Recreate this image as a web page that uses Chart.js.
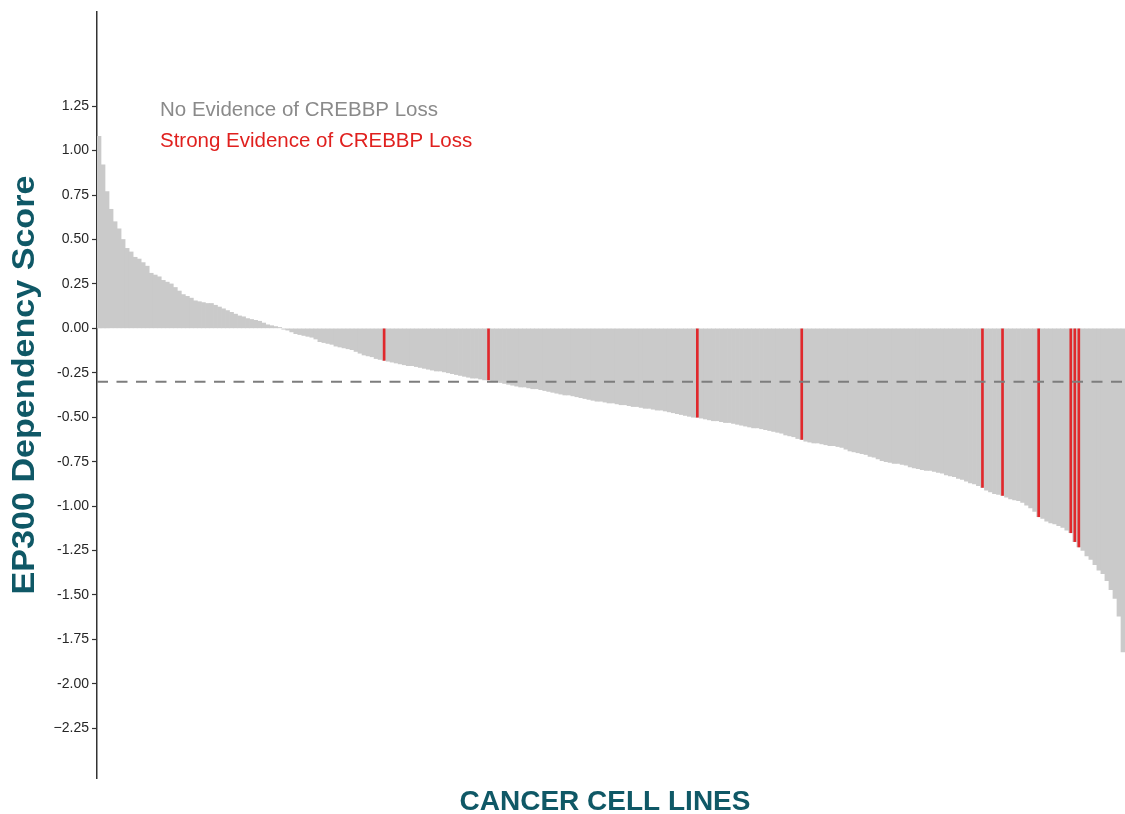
<!DOCTYPE html>
<html>
<head>
<meta charset="utf-8">
<script src="https://cdn.jsdelivr.net/npm/chart.js@4/dist/chart.umd.min.js"></script>
<style>
  html, body { margin: 0; padding: 0; background: #fff; }
  #wrap { width: 1125px; height: 814px; }
</style>
</head>
<body>
<div id="wrap"><canvas id="chart"></canvas></div>
<script>
'use strict'

// EP300 dependency score per cancer cell line, sorted high to low
const cellLineScores = [
  1.08, 0.92, 0.77, 0.67, 0.60, 0.56, 0.50, 0.45, 0.43, 0.40,
  0.39, 0.37, 0.35, 0.31, 0.30, 0.29, 0.27, 0.26, 0.25, 0.23,
  0.21, 0.19, 0.18, 0.17, 0.155, 0.15, 0.145, 0.14, 0.14, 0.13,
  0.12, 0.11, 0.10, 0.09, 0.08, 0.07, 0.065, 0.055, 0.05, 0.045,
  0.04, 0.03, 0.02, 0.015, 0.01, 0.005, -0.005, -0.01, -0.02, -0.03,
  -0.035, -0.04, -0.045, -0.05, -0.06, -0.075, -0.08, -0.085, -0.09, -0.10,
  -0.105, -0.11, -0.115, -0.12, -0.13, -0.14, -0.15, -0.155, -0.16, -0.17,
  -0.175, -0.18, -0.185, -0.19, -0.195, -0.20, -0.205, -0.21, -0.21, -0.215,
  -0.22, -0.225, -0.23, -0.235, -0.24, -0.24, -0.245, -0.25, -0.255, -0.26,
  -0.265, -0.27, -0.275, -0.28, -0.28, -0.285, -0.29, -0.29, -0.295, -0.30,
  -0.305, -0.31, -0.315, -0.32, -0.325, -0.33, -0.33, -0.335, -0.34, -0.34,
  -0.345, -0.35, -0.355, -0.36, -0.365, -0.37, -0.375, -0.375, -0.38, -0.385,
  -0.39, -0.395, -0.40, -0.405, -0.41, -0.41, -0.415, -0.42, -0.42, -0.425,
  -0.43, -0.43, -0.435, -0.44, -0.44, -0.445, -0.45, -0.45, -0.455, -0.46,
  -0.46, -0.465, -0.47, -0.475, -0.48, -0.485, -0.49, -0.495, -0.50, -0.50,
  -0.505, -0.51, -0.515, -0.52, -0.52, -0.525, -0.53, -0.53, -0.535, -0.54,
  -0.545, -0.55, -0.555, -0.56, -0.56, -0.565, -0.57, -0.575, -0.58, -0.585,
  -0.59, -0.60, -0.605, -0.61, -0.62, -0.625, -0.635, -0.64, -0.645, -0.645,
  -0.65, -0.655, -0.66, -0.66, -0.665, -0.67, -0.68, -0.69, -0.695, -0.70,
  -0.705, -0.71, -0.72, -0.725, -0.735, -0.745, -0.75, -0.755, -0.76, -0.76,
  -0.765, -0.77, -0.78, -0.785, -0.79, -0.795, -0.80, -0.80, -0.805, -0.81,
  -0.815, -0.825, -0.83, -0.835, -0.845, -0.85, -0.86, -0.87, -0.875, -0.885,
  -0.895, -0.91, -0.92, -0.93, -0.935, -0.94, -0.95, -0.96, -0.965, -0.97,
  -0.98, -0.995, -1.01, -1.03, -1.06, -1.07, -1.085, -1.095, -1.10, -1.11,
  -1.12, -1.135, -1.15, -1.20, -1.23, -1.25, -1.28, -1.30, -1.33, -1.36,
  -1.38, -1.42, -1.47, -1.52, -1.62, -1.82
]

// positions (in the sorted list) of lines with strong evidence of CREBBP loss
const crebbpLossIdx = [71, 97, 149, 175, 220, 225, 234, 242, 243, 244]

const dependencyCutoff = -0.3

const yTickValues = [-2.25, -2, -1.75, -1.5, -1.25, -1, -0.75, -0.5, -0.25, 0, 0.25, 0.5, 0.75, 1, 1.25]
const yTickLabels = ['\u22122.25', '-2.00', '-1.75', '-1.50', '-1.25', '-1.00', '-0.75', '-0.50', '-0.25',
  '0.00', '0.25', '0.50', '0.75', '1.00', '1.25']

const legendLabels = ['No Evidence of CREBBP Loss', 'Strong Evidence of CREBBP Loss']
const legendColors = ['#8a8a8a', '#e0201e']

const xTitle = 'CANCER CELL LINES'
const yTitle = 'EP300 Dependency Score'

const teal = '#0f5866'
const fontFamily = '"Liberation Sans", Arial, sans-serif'

const labels = cellLineScores.map((v, i) => i + 1)
const lossScores = cellLineScores.map((v, i) => crebbpLossIdx.includes(i) ? v : null)

const cutoffLine = {
  id: 'cutoffLine',
  afterDatasetsDraw(chart) {
    const { ctx, chartArea, scales } = chart
    const y = scales.y.getPixelForValue(dependencyCutoff)
    ctx.save()
    ctx.strokeStyle = '#7d7d7d'
    ctx.lineWidth = 2
    ctx.setLineDash([11, 8.5])
    ctx.beginPath()
    ctx.moveTo(chartArea.left, y)
    ctx.lineTo(chartArea.right, y)
    ctx.stroke()
    ctx.restore()
  }
}

// legend is just two coloured lines of text in the upper left of the panel
const textLegend = {
  id: 'textLegend',
  afterDraw(chart) {
    const { ctx, chartArea } = chart
    ctx.save()
    ctx.font = '20.5px ' + fontFamily
    ctx.textBaseline = 'middle'
    ctx.textAlign = 'left'
    legendLabels.forEach((text, k) => {
      ctx.fillStyle = legendColors[k]
      ctx.fillText(text, chartArea.left + 63, chartArea.top + 98 + k * 31)
    })
    ctx.restore()
  }
}

// axis titles drawn by hand so they sit where the original has them
const axisTitles = {
  id: 'axisTitles',
  afterDraw(chart) {
    const { ctx, chartArea } = chart
    ctx.save()
    ctx.fillStyle = teal
    ctx.textAlign = 'center'
    ctx.textBaseline = 'alphabetic'

    ctx.font = 'bold 28px ' + fontFamily
    ctx.fillText(xTitle, (chartArea.left + chartArea.right) / 2 - 6, chart.height - 4)

    ctx.translate(34, (chartArea.top + chartArea.bottom) / 2 - 10)
    ctx.rotate(-Math.PI / 2)
    ctx.scale(1.1, 1)
    ctx.font = 'bold 31px ' + fontFamily
    ctx.fillText(yTitle, 0, 0)
    ctx.restore()
  }
}

new Chart(document.getElementById('chart'), {
  type: 'bar',
  data: {
    labels: labels,
    datasets: [{
      label: legendLabels[1],
      data: lossScores,
      backgroundColor: '#e0282c',
      barThickness: 2,
      grouped: false,
      order: 0
    }, {
      label: legendLabels[0],
      data: cellLineScores,
      backgroundColor: '#cacaca',
      borderWidth: 0,
      barPercentage: 1,
      categoryPercentage: 1,
      grouped: false,
      order: 1
    }]
  },
  options: {
    responsive: true,
    maintainAspectRatio: false,
    animation: false,
    layout: { padding: { top: 12, right: 0, bottom: 0, left: 0 } },
    plugins: {
      legend: { display: false },
      tooltip: { enabled: false }
    },
    scales: {
      x: {
        grid: { display: false },
        border: { display: false },
        ticks: { display: false },
        afterFit(scale) { scale.height = 36 }
      },
      y: {
        min: -2.53,
        max: 1.78,
        afterBuildTicks(scale) {
          scale.ticks = yTickValues.map(value => ({ value }))
        },
        grid: {
          drawOnChartArea: false,
          drawTicks: true,
          tickLength: 5,
          tickColor: '#333',
          tickWidth: 1.2
        },
        border: { display: true, color: '#333', width: 1.5 },
        ticks: {
          color: '#262626',
          padding: 3,
          font: { family: fontFamily, size: 14 },
          callback: value => yTickLabels[yTickValues.indexOf(value)]
        },
        afterFit(scale) { scale.width = 97 }
      }
    }
  },
  plugins: [cutoffLine, textLegend, axisTitles]
})
</script>
</body>
</html>
